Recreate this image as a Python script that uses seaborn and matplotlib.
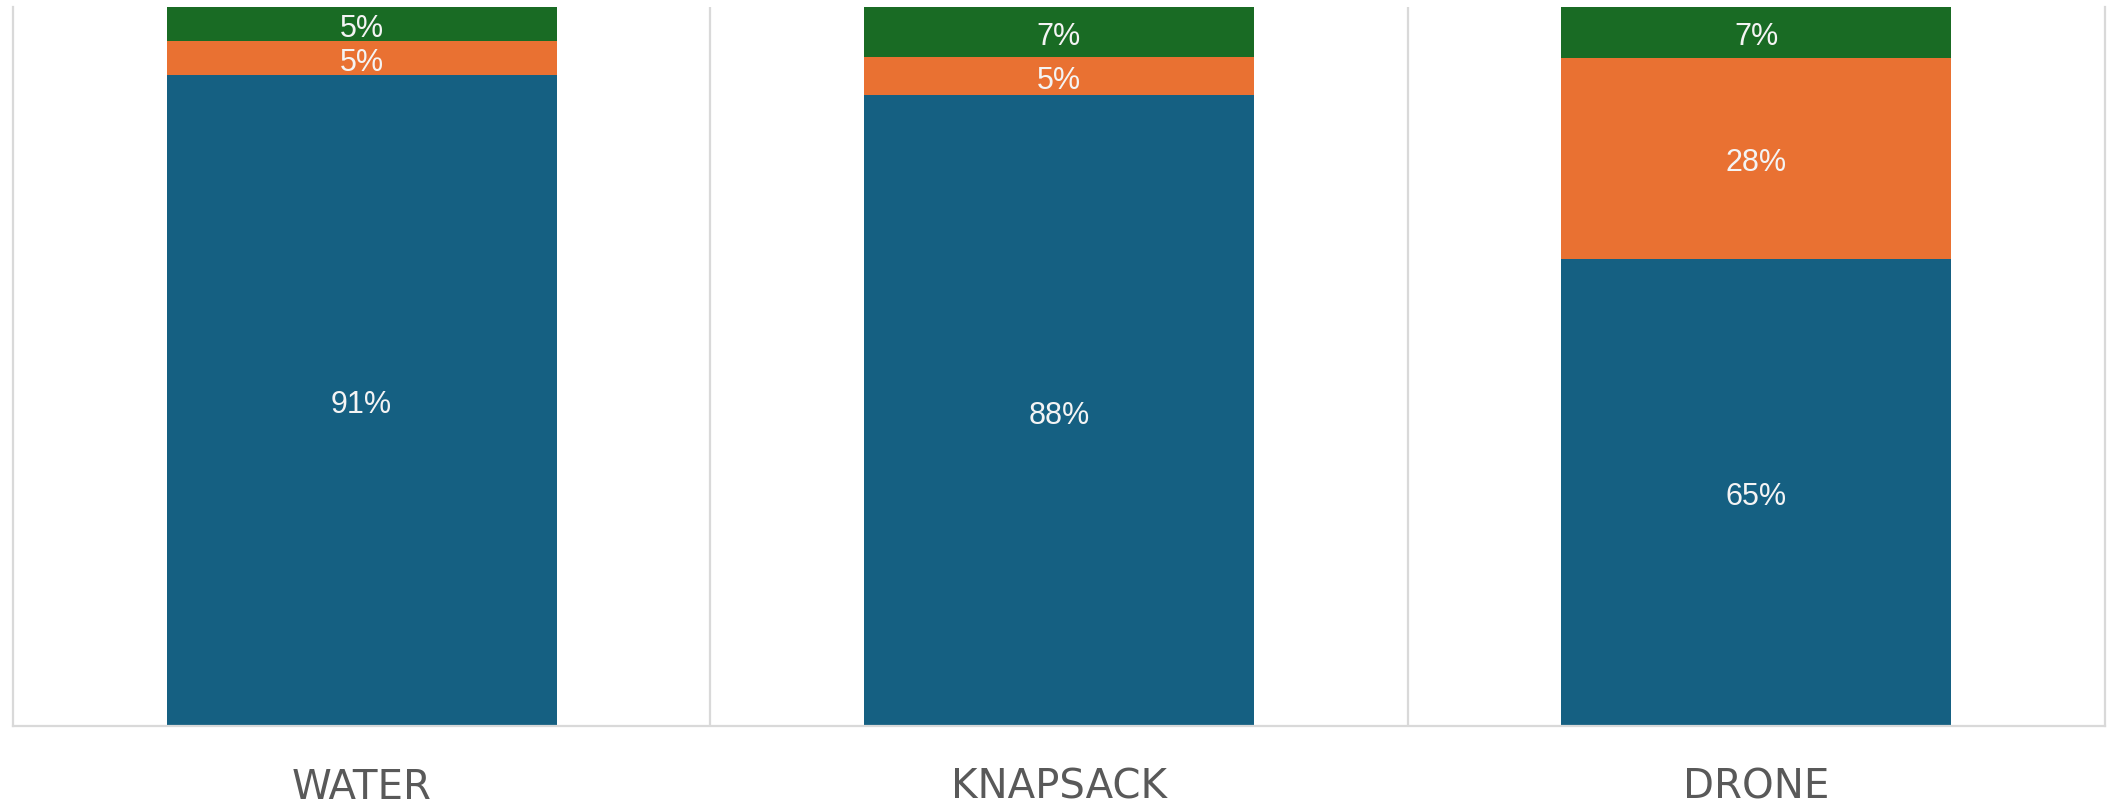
import pandas as pd
import numpy as np
import seaborn as sns
import matplotlib.pyplot as plt
from matplotlib.ticker import FixedLocator

# shares per item (percent)
items = ['WATER', 'KNAPSACK', 'DRONE']
blue_share = [90.6, 87.7, 65.0]
orange_share = [4.7, 5.4, 27.9]
green_share = [4.7, 6.9, 7.1]

segments = ['blue', 'orange', 'green']
colors = {'blue': '#156082', 'orange': '#E97132', 'green': '#196B24'}

# long table with stacked bottoms/tops
rows = []
for i, item in enumerate(items):
    base = 0
    for seg, vals in zip(segments, [blue_share, orange_share, green_share]):
        rows.append({'item': item, 'segment': seg, 'value': vals[i],
                     'bottom': base, 'top': base + vals[i]})
        base += vals[i]
df = pd.DataFrame(rows)

sns.set_style('white')
plt.rcParams['font.family'] = ['DejaVu Sans']

fig = plt.figure(figsize=(21.11, 8.09), dpi=100)
ax = fig.add_axes([13 / 2111, 1 - 726 / 809, (2105 - 13) / 2111, (726 - 7) / 809])

# draw cumulative tops, tallest first so lower segments overlay
sns.barplot(data=df, x='item', y='top', hue='segment',
            hue_order=['green', 'orange', 'blue'], palette=colors,
            dodge=False, width=0.559, saturation=1, errorbar=None,
            legend=False, linewidth=0, ax=ax)

for _, r in df.iterrows():
    ax.annotate(f"{r['value']:.0f}%", (items.index(r['item']), r['bottom'] + r['value'] / 2),
                xytext=(0, -3.5), textcoords='offset points',
                ha='center', va='center', color='#f4f4f4', fontsize=22,
                family=['Liberation Sans', 'DejaVu Sans'])

ax.set_ylim(0, 100)
ax.set_xlim(-0.5, len(items) - 0.5)
ax.set_yticks([])
ax.set_xlabel('')
ax.set_ylabel('')

# separators between categories
ax.xaxis.set_minor_locator(FixedLocator([0.5, 1.5]))
ax.grid(True, which='minor', axis='x', color='#d9d9d9', linewidth=1.6)
ax.grid(False, which='major')
ax.set_axisbelow(True)

ax.tick_params(axis='x', which='both', length=0, pad=30, labelsize=29, labelcolor='#595959')

ax.spines['top'].set_visible(False)
for s in ['left', 'right', 'bottom']:
    ax.spines[s].set_color('#d9d9d9')
    ax.spines[s].set_linewidth(1.6)

fig.savefig('out.png', dpi=100)
